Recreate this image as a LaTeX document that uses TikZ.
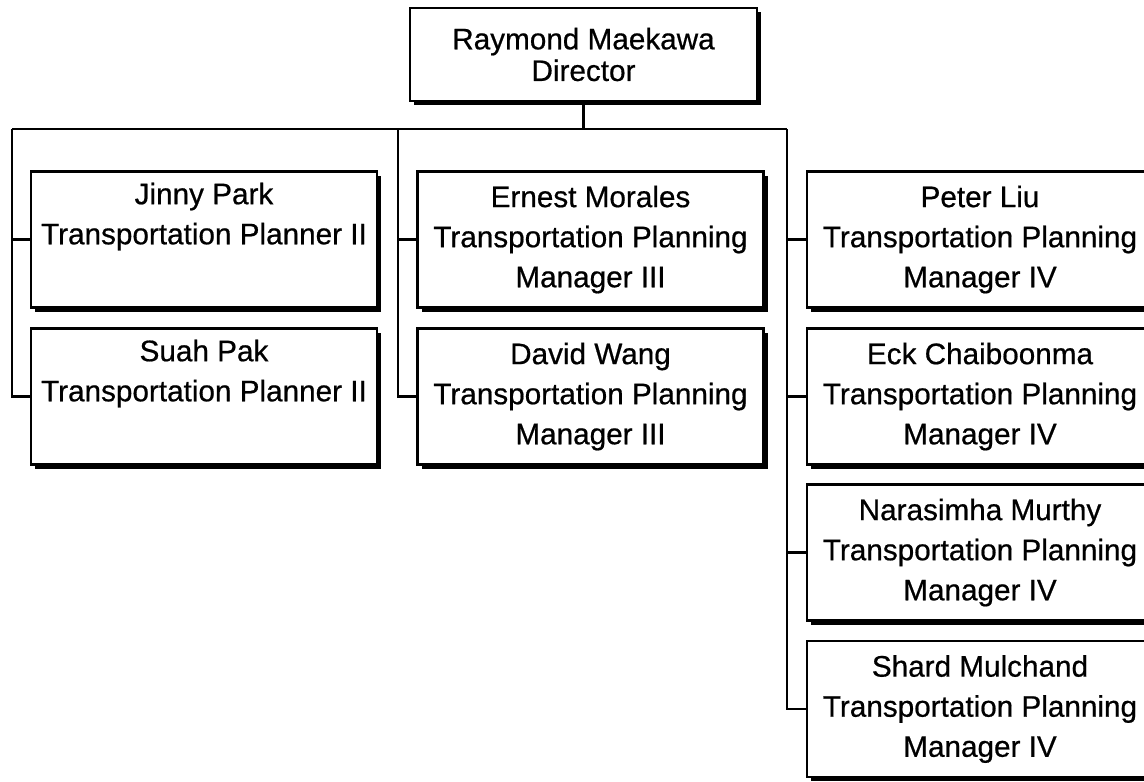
\documentclass[tikz,border=0pt]{standalone}
\usepackage{fontspec}
\setmainfont[FakeBold=0.6]{Liberation Sans}
\usetikzlibrary{positioning,shadows}
\begin{document}
\begin{tikzpicture}[
            staff/.style={rectangle,draw,line width=0.8pt,fill=white,minimum width=3.46cm,minimum height=1.36cm,align=center,inner sep=0pt,
                font=\fontsize{8.45}{11.4}\selectfont,
                drop shadow={shadow xshift=0.4mm,shadow yshift=-0.4mm,fill=black,opacity=1}},
            head/.style={staff,minimum width=3.47cm,minimum height=0.93cm,font=\fontsize{8.45}{9.0}\selectfont},
            link/.style={line width=0.6pt},
            node distance=1.57cm
        ]
            \useasboundingbox (0,0) rectangle (11.44,-7.81);

            \node[head] (maekawa) at (5.835,-0.545) {Raymond Maekawa\\Director};

            \node[staff] (park) at (2.04,-2.395) {Jinny Park\\Transportation Planner II\\\strut};
            \node[staff,right of=park,node distance=3.865cm] (morales) {Ernest Morales\\Transportation Planning\\Manager III};
            \node[staff,right of=morales,node distance=3.895cm] (liu) {Peter Liu\\Transportation Planning\\Manager IV};
            \node[staff,below of=park] (pak) {Suah Pak\\Transportation Planner II\\\strut};
            \node[staff,below of=morales] (wang) {David Wang\\Transportation Planning\\Manager III};
            \node[staff,below of=liu] (chaiboonma) {Eck Chaiboonma\\Transportation Planning\\Manager IV};
            \node[staff,below of=chaiboonma,node distance=1.56cm] (murthy) {Narasimha Murthy\\Transportation Planning\\Manager IV};
            \node[staff,below of=murthy,node distance=1.565cm] (mulchand) {Shard Mulchand\\Transportation Planning\\Manager IV};

            % bus under the director
            \coordinate (busL) at (0.12,-1.29);
            \coordinate (busM) at (3.98,-1.29);
            \coordinate (busR) at (7.87,-1.29);
            \draw[link] (busL) -- (busR);
            \draw[link] (maekawa.south) -- (maekawa.south |- busL);

            \draw[link] (busL) |- (pak.west);
            \draw[link] (busL |- park.west) -- (park.west);
            \draw[link] (busM) |- (wang.west);
            \draw[link] (busM |- morales.west) -- (morales.west);
            \draw[link] (busR) |- (mulchand.west);
            \foreach \n in {liu,chaiboonma,murthy}
                \draw[link] (busR |- \n.west) -- (\n.west);
        \end{tikzpicture}
\end{document}
